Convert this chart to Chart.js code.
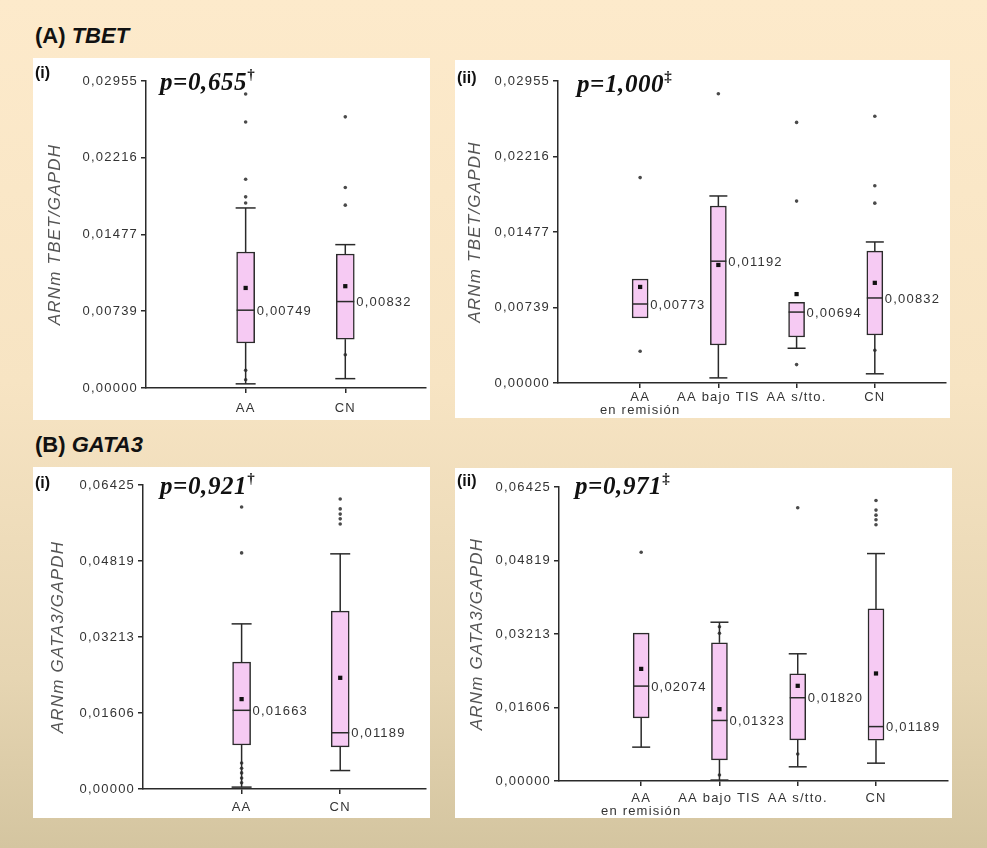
<!DOCTYPE html>
<html lang="es">
<head>
<meta charset="utf-8">
<title>TBET y GATA3</title>
<script src="https://cdn.jsdelivr.net/npm/chart.js@4.4.1/dist/chart.umd.min.js"></script>
<style>
  html, body { margin: 0; padding: 0; }
  body {
    width: 987px; height: 848px; position: relative; overflow: hidden;
    background: linear-gradient(180deg, #fdeacb 0%, #f7e4c3 45%, #e6d5b2 80%, #d4c5a0 100%);
    font-family: "Liberation Sans", Arial, sans-serif;
  }
  .panel { position: absolute; background: #fff; }
  .panel canvas { position: absolute; left: 0; top: 0; }
  .head { position: absolute; left: 35px; font-weight: bold; font-size: 22px; line-height: 1; color: #111; }
  .head i { font-style: italic; font-weight: bold; }
  .sub { position: absolute; font-weight: bold; font-size: 16px; line-height: 1; color: #111; }
  .pval { position: absolute; font-family: "Liberation Serif", "Times New Roman", serif; font-weight: bold; font-style: italic; font-size: 25px; line-height: 1; letter-spacing: 0.6px; color: #111; white-space: nowrap; }
  .pval sup { font-size: 15px; font-style: normal; position: relative; top: -2px; }
</style>
</head>
<body>

<div class="head" style="top:25px">(A) <i>TBET</i></div>
<div class="head" style="top:434px">(B) <i>GATA3</i></div>

<div class="panel" style="left:33px; top:58px; width:397px; height:362px"><canvas id="cA1" width="397" height="362"></canvas></div>
<div class="panel" style="left:455px; top:60px; width:495px; height:358px"><canvas id="cA2" width="495" height="358"></canvas></div>
<div class="panel" style="left:33px; top:467px; width:397px; height:351px"><canvas id="cB1" width="397" height="351"></canvas></div>
<div class="panel" style="left:455px; top:468px; width:497px; height:350px"><canvas id="cB2" width="497" height="350"></canvas></div>

<div class="sub" style="left:35px; top:65px">(i)</div>
<div class="sub" style="left:457px; top:70px">(ii)</div>
<div class="sub" style="left:35px; top:475px">(i)</div>
<div class="sub" style="left:457px; top:473px">(ii)</div>

<div class="pval" style="left:160px; top:69px">p=0,655<sup>†</sup></div>
<div class="pval" style="left:577px; top:71px">p=1,000<sup>‡</sup></div>
<div class="pval" style="left:160px; top:473px">p=0,921<sup>†</sup></div>
<div class="pval" style="left:575px; top:473px">p=0,971<sup>‡</sup></div>

<script>
// ---- TBET: AA vs CN ----
const tbetCats2   = ['AA', 'CN'];
const tbetMedian2 = [0.00749, 0.00832];
const tbetQ1_2    = [0.00433, 0.00470];
const tbetQ3_2    = [0.01309, 0.01290];
const tbetLow2    = [0.00040, 0.00090];
const tbetHigh2   = [0.01733, 0.01380];
const tbetMean2   = [0.00963, 0.00980];
const tbetOut2    = [[0.0283, 0.0256, 0.0201, 0.0184, 0.0178, 0.0017, 0.0008],
                     [0.0261, 0.0193, 0.0176, 0.0032]];

// ---- TBET: subgroups ----
const tbetCats4   = [['AA', 'en remisión'], 'AA bajo TIS', 'AA s/tto.', 'CN'];
const tbetMedian4 = [0.00773, 0.01192, 0.00694, 0.00832];
const tbetQ1_4    = [0.00636, 0.00372, 0.00450, 0.00470];
const tbetQ3_4    = [0.01018, 0.01732, 0.00790, 0.01290];
const tbetLow4    = [null, 0.00050, 0.00340, 0.00090];
const tbetHigh4   = [null, 0.01830, null, 0.01380];
const tbetMean4   = [0.00940, 0.01155, 0.00870, 0.00980];
const tbetOut4    = [[0.0201, 0.0031], [0.0283], [0.0255, 0.0178, 0.0018],
                     [0.0261, 0.0193, 0.0176, 0.0032]];

// ---- GATA3: AA vs CN ----
const gataCats2   = ['AA', 'CN'];
const gataMedian2 = [0.01663, 0.01189];
const gataQ1_2    = [0.00930, 0.00890];
const gataQ3_2    = [0.02680, 0.03760];
const gataLow2    = [0.00040, 0.00390];
const gataHigh2   = [0.03490, 0.04970];
const gataMean2   = [0.01900, 0.02350];
const gataOut2    = [[0.0596, 0.0499, 0.0055, 0.0044, 0.0034, 0.0023, 0.0013],
                     [0.0613, 0.0592, 0.0581, 0.0571, 0.0560]];

// ---- GATA3: subgroups ----
const gataCats4   = [['AA', 'en remisión'], 'AA bajo TIS', 'AA s/tto.', 'CN'];
const gataMedian4 = [0.02074, 0.01323, 0.01820, 0.01189];
const gataQ1_4    = [0.01380, 0.00460, 0.00900, 0.00890];
const gataQ3_4    = [0.03230, 0.03020, 0.02340, 0.03760];
const gataLow4    = [0.00740, 0.00020, 0.00310, 0.00390];
const gataHigh4   = [null, 0.03470, 0.02780, 0.04970];
const gataMean4   = [0.02450, 0.01570, 0.02080, 0.02350];
const gataOut4    = [[0.0500], [0.0337, 0.0323, 0.0013], [0.0597, 0.0059],
                     [0.0613, 0.0592, 0.0581, 0.0571, 0.0560]];

// ---- axis ticks ----
const tbetTicks = [0, 0.00739, 0.01477, 0.02216, 0.02955];
const gataTicks = [0, 0.01606, 0.03213, 0.04819, 0.06425];

const INK = '#2a2a2a';
const TEXT = '#333';
const FONT = '"Liberation Sans", Arial, sans-serif';
const fmt = v => v.toFixed(5).replace('.', ',');

// slightly open lettering for all canvas text
const spacing = {
  id: 'spacing',
  beforeDraw(chart) { chart.ctx.letterSpacing = '1.2px'; }
};

// whiskers, caps, medians and median labels, placed through the chart scales
const boxWhiskers = {
  id: 'boxWhiskers',
  afterDatasetsDraw(chart) {
    const o = chart.options.plugins.boxWhiskers;
    const { ctx } = chart;
    const x = chart.scales.x, y = chart.scales.y;
    ctx.save();
    ctx.strokeStyle = INK;
    ctx.lineWidth = 1.5;
    ctx.fillStyle = TEXT;
    ctx.font = '13px ' + FONT;
    ctx.textBaseline = 'middle';
    ctx.textAlign = 'left';
    const seg = (x1, y1, x2, y2) => { ctx.beginPath(); ctx.moveTo(x1, y1); ctx.lineTo(x2, y2); ctx.stroke(); };
    o.median.forEach((m, i) => {
      const cx = x.getPixelForValue(i + 1);
      const h = o.half, c = o.half + 1;
      if (o.high[i] != null) {
        seg(cx, y.getPixelForValue(o.q3[i]), cx, y.getPixelForValue(o.high[i]));
        seg(cx - c, y.getPixelForValue(o.high[i]), cx + c, y.getPixelForValue(o.high[i]));
      }
      if (o.low[i] != null) {
        seg(cx, y.getPixelForValue(o.q1[i]), cx, y.getPixelForValue(o.low[i]));
        seg(cx - c, y.getPixelForValue(o.low[i]), cx + c, y.getPixelForValue(o.low[i]));
      }
      const my = y.getPixelForValue(m);
      seg(cx - h, my, cx + h, my);
      ctx.fillText(fmt(m), cx + h + 2, my + 1);
    });
    ctx.restore();
  }
};

function makeChart(id, p) {
  const outPts = [];
  p.out.forEach((arr, i) => arr.forEach(v => outPts.push({ x: i + 1, y: v })));
  return new Chart(document.getElementById(id), {
    type: 'bar',
    data: {
      datasets: [
        {
          type: 'scatter', order: 0,
          data: p.mean.map((v, i) => ({ x: i + 1, y: v })),
          pointRadius: 3, pointBackgroundColor: '#111', pointBorderWidth: 0, pointStyle: 'rect'
        },
        {
          type: 'scatter', order: 1,
          data: outPts,
          pointRadius: 1.8, pointBackgroundColor: '#4a4a4a', pointBorderWidth: 0
        },
        {
          type: 'bar', order: 2,
          data: p.q1.map((v, i) => ({ x: i + 1, y: [v, p.q3[i]] })),
          backgroundColor: '#f6caf3', borderColor: INK, borderWidth: 1.5,
          borderSkipped: false, barThickness: p.half * 2
        }
      ]
    },
    options: {
      responsive: false, animation: false, devicePixelRatio: 1,
      layout: { padding: { top: p.padTop, left: 0, right: 0, bottom: 0 } },
      plugins: {
        legend: { display: false }, tooltip: { enabled: false },
        boxWhiskers: { median: p.median, q1: p.q1, q3: p.q3, low: p.low, high: p.high, half: p.half }
      },
      scales: {
        x: {
          type: 'linear', min: p.xMin, max: p.xMax, offset: false,
          afterBuildTicks: s => { s.ticks = p.cats.map((c, i) => ({ value: i + 1 })); },
          afterFit: s => { s.height = p.xH; },
          ticks: {
            autoSkip: false, maxRotation: 0, padding: p.xPad, color: TEXT,
            font: { family: FONT, size: 13, lineHeight: 1.0 },
            callback: v => p.cats[Math.round(v) - 1]
          },
          grid: { offset: false, drawOnChartArea: false, drawTicks: true, tickLength: 5, color: INK, lineWidth: 1.5 },
          border: { display: true, color: INK, width: 1.5 }
        },
        y: {
          min: 0, max: p.ticks[p.ticks.length - 1],
          afterBuildTicks: s => { s.ticks = p.ticks.map(v => ({ value: v })); },
          afterFit: s => { s.width = p.yW; },
          ticks: {
            padding: 3, color: TEXT,
            font: { family: FONT, size: 13 },
            callback: v => fmt(v)
          },
          grid: { drawOnChartArea: false, drawTicks: true, tickLength: 5, color: INK, lineWidth: 1.5 },
          border: { display: true, color: INK, width: 1.5 },
          title: {
            display: true, text: p.title, color: '#555',
            font: { family: FONT, size: 17, style: 'italic' },
            padding: { top: p.titlePad, bottom: 0 }
          }
        }
      }
    },
    plugins: [spacing, boxWhiskers]
  });
}

makeChart('cA1', {
  cats: tbetCats2, median: tbetMedian2, q1: tbetQ1_2, q3: tbetQ3_2, low: tbetLow2, high: tbetHigh2,
  mean: tbetMean2, out: tbetOut2, ticks: tbetTicks, title: 'ARNm TBET/GAPDH',
  half: 9, padTop: 23, yW: 113, xH: 32, xMin: 0, xMax: 2.81, xPad: 9, titlePad: 12
});
makeChart('cA2', {
  cats: tbetCats4, median: tbetMedian4, q1: tbetQ1_4, q3: tbetQ3_4, low: tbetLow4, high: tbetHigh4,
  mean: tbetMean4, out: tbetOut4, ticks: tbetTicks, title: 'ARNm TBET/GAPDH',
  half: 8, padTop: 21, yW: 103, xH: 35, xMin: -0.05, xMax: 4.91, xPad: 3, titlePad: 10
});
makeChart('cB1', {
  cats: gataCats2, median: gataMedian2, q1: gataQ1_2, q3: gataQ3_2, low: gataLow2, high: gataHigh2,
  mean: gataMean2, out: gataOut2, ticks: gataTicks, title: 'ARNm GATA3/GAPDH',
  half: 9, padTop: 18, yW: 110, xH: 29, xMin: 0, xMax: 2.87, xPad: 7, titlePad: 15
});
makeChart('cB2', {
  cats: gataCats4, median: gataMedian4, q1: gataQ1_4, q3: gataQ3_4, low: gataLow4, high: gataHigh4,
  mean: gataMean4, out: gataOut4, ticks: gataTicks, title: 'ARNm GATA3/GAPDH',
  half: 8, padTop: 19, yW: 104, xH: 37, xMin: -0.05, xMax: 4.92, xPad: 6, titlePad: 12
});
</script>
</body>
</html>
